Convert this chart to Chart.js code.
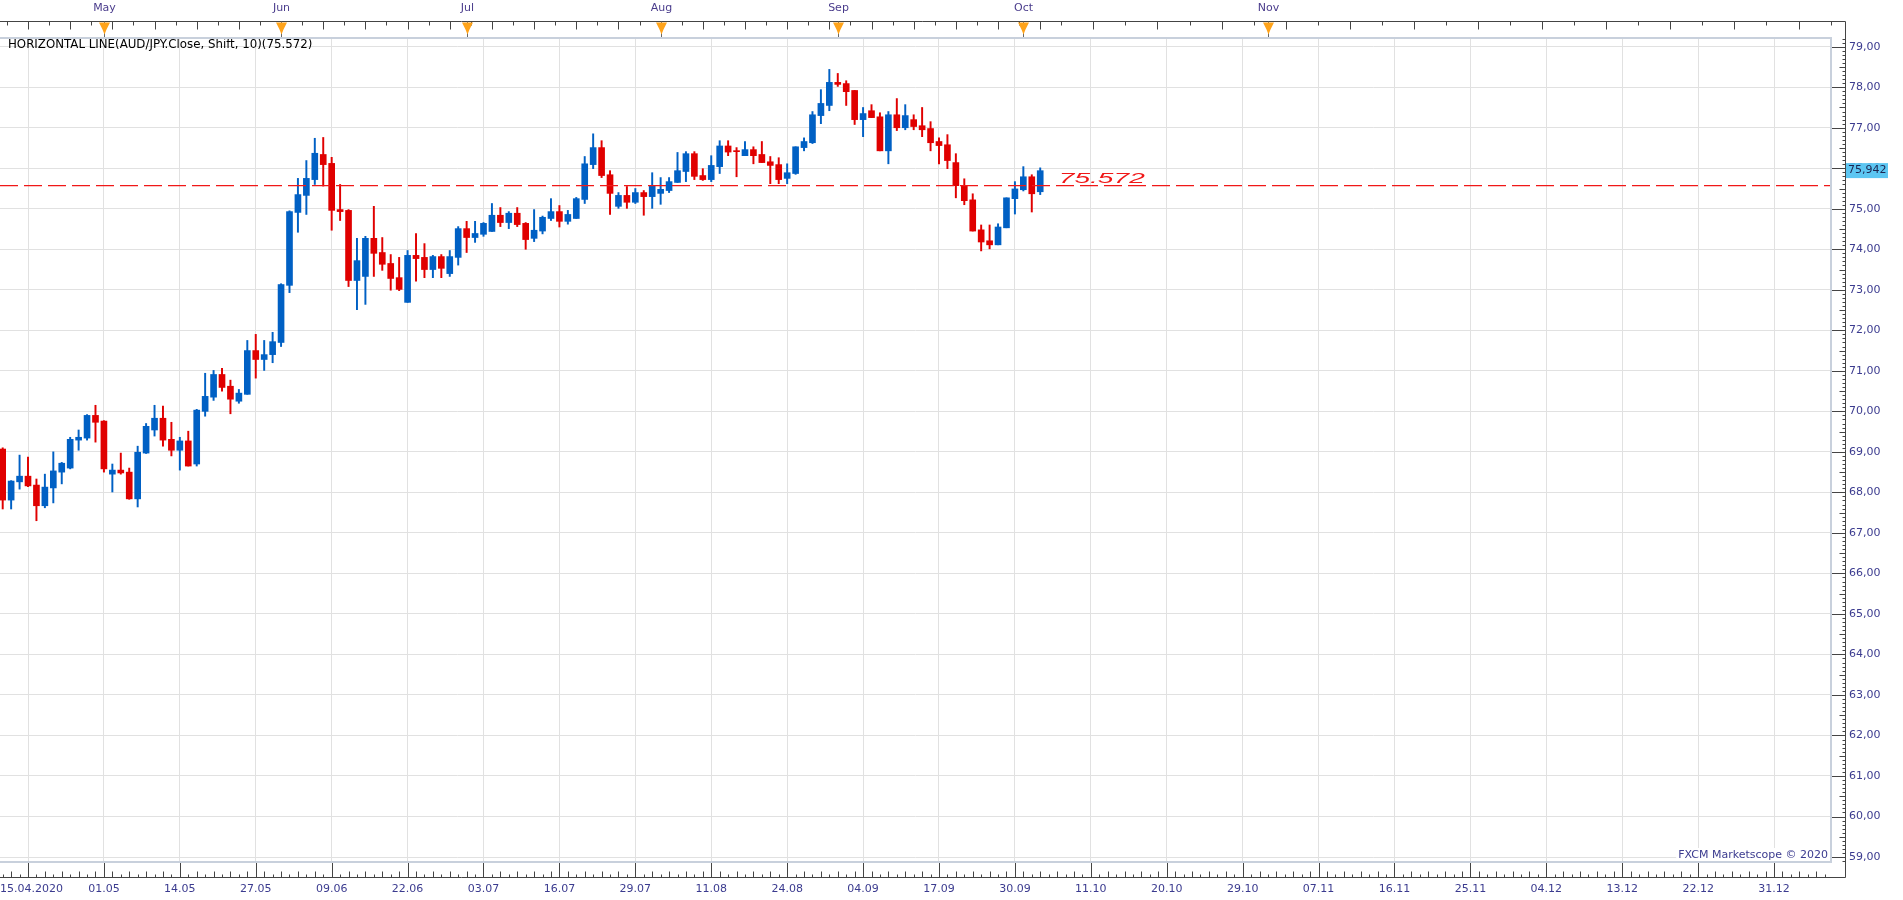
<!DOCTYPE html>
<html>
<head>
<meta charset="utf-8">
<title>AUD/JPY</title>
<script src="https://cdn.jsdelivr.net/npm/chart.js@4.4.1/dist/chart.umd.min.js"></script>
<style>
  html, body { margin: 0; padding: 0; background: #fff; }
  canvas { display: block; }
</style>
</head>
<body>
<canvas id="audjpy" width="1903" height="900"></canvas>
<script>
// daily AUD/JPY candles, one per trading day starting 15.04.2020
const opens = [
  69.07, 67.81, 68.26, 68.40, 68.18, 67.67, 68.11, 68.50, 68.60, 69.29,
  69.34, 69.90, 69.76, 68.45, 68.55, 68.50, 67.84, 68.97, 69.54, 69.83,
  69.31, 69.04, 69.27, 68.70, 70.00, 70.35, 70.91, 70.62, 70.25, 70.42,
  71.50, 71.28, 71.40, 71.70, 73.11, 74.91, 75.33, 75.72, 76.34, 76.12,
  74.98, 74.96, 73.23, 73.33, 74.27, 73.92, 73.65, 73.30, 72.69, 73.85,
  73.80, 73.50, 73.82, 73.40, 73.80, 74.51, 74.29, 74.37, 74.44, 74.84,
  74.66, 74.89, 74.64, 74.27, 74.45, 74.76, 74.93, 74.69, 74.76, 75.23,
  76.09, 76.51, 75.84, 75.06, 75.33, 75.16, 75.40, 75.30, 75.38, 75.45,
  75.65, 75.92, 76.36, 75.82, 75.72, 76.04, 76.55, 76.43, 76.31, 76.46,
  76.34, 76.16, 76.09, 75.75, 75.87, 76.51, 76.63, 77.30, 77.55, 78.12,
  78.09, 77.92, 77.20, 77.42, 77.27, 76.43, 77.32, 77.00, 77.20, 77.05,
  76.98, 76.66, 76.58, 76.14, 75.57, 75.22, 74.48, 74.21, 74.11, 74.53,
  75.25, 75.47, 75.79, 75.42
];
const highs = [
  69.10, 68.29, 68.92, 68.87, 68.33, 68.45, 69.00, 68.74, 69.36, 69.54,
  69.92, 70.15, 69.77, 68.70, 68.97, 68.60, 69.14, 69.70, 70.15, 70.13,
  69.73, 69.36, 69.51, 70.05, 70.94, 71.01, 71.06, 70.77, 70.54, 71.75,
  71.90, 71.75, 71.95, 73.15, 74.95, 75.75, 76.19, 76.74, 76.76, 76.27,
  75.60, 74.98, 74.27, 74.32, 75.06, 74.29, 73.87, 73.80, 73.97, 74.39,
  74.14, 73.85, 73.87, 73.97, 74.56, 74.69, 74.69, 74.66, 75.13, 75.03,
  74.93, 75.03, 74.66, 74.98, 74.82, 75.25, 75.08, 74.96, 75.28, 76.29,
  76.85, 76.68, 75.94, 75.40, 75.55, 75.50, 75.45, 75.89, 75.77, 75.77,
  76.39, 76.41, 76.41, 75.99, 76.31, 76.68, 76.68, 76.51, 76.66, 76.53,
  76.66, 76.29, 76.26, 76.11, 76.53, 76.75, 77.40, 77.94, 78.44, 78.34,
  78.16, 77.92, 77.50, 77.57, 77.37, 77.40, 77.72, 77.57, 77.32, 77.50,
  77.15, 76.75, 76.83, 76.36, 75.74, 75.37, 74.60, 74.60, 74.63, 75.27,
  75.67, 76.04, 75.84, 76.01
];
const lows = [
  67.59, 67.59, 68.08, 68.14, 67.30, 67.62, 67.74, 68.21, 68.58, 69.04,
  69.29, 69.24, 68.50, 68.01, 68.45, 67.83, 67.64, 68.96, 69.39, 69.14,
  68.90, 68.55, 68.65, 68.65, 69.88, 70.27, 70.50, 69.94, 70.20, 70.42,
  70.82, 71.01, 71.20, 71.60, 72.93, 74.42, 74.86, 75.60, 75.56, 74.47,
  74.71, 73.08, 72.51, 72.64, 73.33, 73.48, 72.99, 72.98, 72.69, 73.21,
  73.30, 73.30, 73.30, 73.33, 73.61, 73.92, 74.17, 74.32, 74.44, 74.56,
  74.51, 74.56, 74.00, 74.19, 74.38, 74.71, 74.55, 74.62, 74.76, 75.13,
  75.99, 75.77, 74.86, 75.01, 75.01, 75.13, 74.84, 75.01, 75.11, 75.40,
  75.65, 75.67, 75.72, 75.70, 75.67, 75.87, 76.31, 75.79, 76.31, 76.11,
  76.14, 75.62, 75.62, 75.62, 75.85, 76.43, 76.61, 77.10, 77.42, 78.02,
  77.55, 77.08, 76.78, 77.25, 76.43, 76.11, 76.93, 76.95, 76.95, 76.78,
  76.43, 76.11, 75.99, 75.27, 75.10, 74.45, 73.96, 74.01, 74.11, 74.53,
  74.87, 75.44, 74.92, 75.35
];
const closes = [
  67.81, 68.28, 68.40, 68.16, 67.67, 68.13, 68.53, 68.72, 69.31, 69.36,
  69.90, 69.73, 68.58, 68.55, 68.48, 67.84, 68.99, 69.63, 69.83, 69.29,
  69.04, 69.27, 68.65, 70.03, 70.37, 70.91, 70.59, 70.30, 70.45, 71.50,
  71.28, 71.40, 71.72, 73.13, 74.93, 75.35, 75.75, 76.37, 76.09, 74.96,
  74.93, 73.23, 73.72, 74.27, 73.90, 73.63, 73.28, 73.01, 73.85, 73.77,
  73.50, 73.82, 73.53, 73.82, 74.51, 74.29, 74.39, 74.64, 74.84, 74.66,
  74.89, 74.61, 74.24, 74.47, 74.79, 74.93, 74.69, 74.86, 75.25, 76.11,
  76.51, 75.82, 75.38, 75.33, 75.16, 75.40, 75.30, 75.57, 75.48, 75.67,
  75.94, 76.36, 75.80, 75.72, 76.07, 76.55, 76.40, 76.41, 76.46, 76.31,
  76.14, 76.07, 75.72, 75.89, 76.53, 76.66, 77.32, 77.60, 78.12, 78.07,
  77.89, 77.20, 77.35, 77.25, 76.43, 77.32, 77.00, 77.30, 77.03, 76.95,
  76.63, 76.56, 76.19, 75.57, 75.20, 74.45, 74.18, 74.11, 74.55, 75.27,
  75.49, 75.79, 75.37, 75.94
];

const level = 75.572;      // horizontal line (close, shift 10)
const lastPrice = 75.942;

// bottom axis: slot positions and their date labels
const firstDate = '15.04.2020';
const dateSlots = [3, 12, 21, 30, 39, 48, 57, 66, 75, 84, 93, 102,
  111, 120, 129, 138, 147, 156, 165, 174, 183, 192, 201, 210];
const dateLabels = ['', '01.05', '14.05', '27.05', '09.06', '22.06', '03.07', '16.07',
  '29.07', '11.08', '24.08', '04.09', '17.09', '30.09', '11.10', '20.10', '29.10',
  '07.11', '16.11', '25.11', '04.12', '13.12', '22.12', '31.12'];

// top axis: month starts
const monthNames = ['May', 'Jun', 'Jul', 'Aug', 'Sep', 'Oct', 'Nov'];
const monthSlots = [12, 33, 55, 78, 99, 121, 150];

const xMin = -0.32, xMax = 216.75;
const yMin = 58.877, yMax = 79.215;

const up = '#0060c4', down = '#e00000';
const axisColor = '#3b3b8f';
const font = '11px "DejaVu Sans"';

const idx = opens.map((o, i) => i);
const colors = idx.map(i => closes[i] >= opens[i] ? up : down);

const frame = {
  id: 'frame',
  afterDraw(chart) {
    const { ctx, chartArea: a, scales: { x, y } } = chart;
    const axisX = 1845.5, topY = 21.5, botY = 877.5;
    ctx.save();

    // axis lines
    ctx.strokeStyle = '#444';
    ctx.lineWidth = 1;
    ctx.beginPath();
    ctx.moveTo(0, topY); ctx.lineTo(axisX, topY);
    ctx.lineTo(axisX, botY); ctx.lineTo(0, botY);
    ctx.stroke();

    ctx.beginPath();
    // price axis ticks, every 0.1
    for (let k = Math.ceil(y.min * 10); k <= Math.floor(y.max * 10); k++) {
      const py = Math.round(y.getPixelForValue(k / 10)) + 0.5;
      const len = k % 10 === 0 ? 14 : (k % 5 === 0 ? 6 : 3);
      ctx.moveTo(axisX - len, py); ctx.lineTo(axisX, py);
    }
    // date axis ticks, one per slot
    for (let s = 0; s <= Math.floor(x.max); s++) {
      const px = Math.round(x.getPixelForValue(s)) + 0.5;
      const len = dateSlots.includes(s) ? botY - a.bottom : (s % 2 ? 6 : 3);
      ctx.moveTo(px, botY - len); ctx.lineTo(px, botY);
    }
    // top axis ticks
    let n = 0;
    for (let t = 0.5; t < x.max; t += (t < opens.length ? 2.5 : 3.8)) {
      const px = Math.round(x.getPixelForValue(t)) + 0.5;
      const len = n++ % 2 ? 8 : 4;
      ctx.moveTo(px, topY); ctx.lineTo(px, topY + len);
    }
    ctx.stroke();

    // month markers
    ctx.font = font;
    ctx.textAlign = 'center';
    ctx.textBaseline = 'middle';
    monthSlots.forEach((s, i) => {
      const px = Math.round(x.getPixelForValue(s)) + 0.5;
      ctx.strokeStyle = '#666';
      ctx.beginPath();
      ctx.moveTo(px, topY); ctx.lineTo(px, a.top);
      ctx.stroke();
      ctx.fillStyle = '#ffa31a';
      ctx.beginPath();
      ctx.moveTo(px - 5.5, topY + 1);
      ctx.lineTo(px + 5.5, topY + 1);
      ctx.lineTo(px + 2, topY + 8);
      ctx.lineTo(px, topY + 13);
      ctx.lineTo(px - 2, topY + 8);
      ctx.closePath();
      ctx.fill();
      ctx.fillStyle = '#4a3c8c';
      ctx.fillText(monthNames[i], px, 8);
    });

    // date labels
    ctx.fillStyle = axisColor;
    dateSlots.forEach((s, i) => {
      if (dateLabels[i]) ctx.fillText(dateLabels[i], x.getPixelForValue(s), 889);
    });
    ctx.textAlign = 'left';
    ctx.fillText(firstDate, 0, 889);

    // indicator title
    ctx.fillStyle = '#000';
    ctx.font = '11.8px "DejaVu Sans"';
    ctx.fillText('HORIZONTAL LINE(AUD/JPY.Close, Shift, 10)(' + level.toFixed(3) + ')', 8, 45);
    ctx.font = font;

    // watermark
    const mark = 'FXCM Marketscope \u00a9 2020';
    const mw = ctx.measureText(mark).width;
    ctx.fillStyle = '#fff';
    ctx.fillRect(a.right - mw - 5, 848, mw + 4, 14);
    ctx.fillStyle = axisColor;
    ctx.textAlign = 'right';
    ctx.fillText(mark, a.right - 3, 855);

    // level value next to the last candle
    const lx = x.getPixelForValue(opens.length + 1.2);
    const ly = y.getPixelForValue(level) - 3;
    ctx.save();
    ctx.font = 'italic 15px "Liberation Sans"';
    const lw = ctx.measureText(level.toFixed(3)).width;
    ctx.translate(lx, ly);
    ctx.scale(86 / lw, 1);
    ctx.fillStyle = '#f01818';
    ctx.textAlign = 'left';
    ctx.textBaseline = 'alphabetic';
    ctx.fillText(level.toFixed(3), 0, 0);
    ctx.restore();

    // last price box on the price axis
    const py = y.getPixelForValue(lastPrice);
    ctx.fillStyle = '#5cc6f2';
    ctx.fillRect(axisX + 0.5, py - 7.5, 42, 15);
    ctx.fillStyle = '#1c2450';
    ctx.textAlign = 'left';
    ctx.fillText(lastPrice.toFixed(3).replace('.', ','), axisX + 2.5, py);

    // plot border
    ctx.strokeStyle = '#c8d0dc';
    ctx.lineWidth = 2;
    ctx.beginPath();
    ctx.moveTo(a.left, a.top); ctx.lineTo(a.right, a.top);
    ctx.lineTo(a.right, a.bottom); ctx.lineTo(a.left, a.bottom);
    ctx.stroke();
    ctx.restore();
  }
};

new Chart(document.getElementById('audjpy'), {
  type: 'bar',
  data: {
    datasets: [
      {
        type: 'line',
        label: 'level',
        data: [{ x: xMin, y: level }, { x: xMax, y: level }],
        borderColor: '#f01818',
        borderWidth: 1.3,
        borderDash: [18, 6],
        pointRadius: 0,
        order: 0
      },
      {
        label: 'body',
        data: idx.map(i => ({ x: i, y: [opens[i], closes[i]] })),
        backgroundColor: colors,
        barThickness: 6,
        minBarLength: 1,
        grouped: false,
        order: 1
      },
      {
        label: 'wick',
        data: idx.map(i => ({ x: i, y: [lows[i], highs[i]] })),
        backgroundColor: colors,
        barThickness: 1.3,
        grouped: false,
        order: 2
      }
    ]
  },
  options: {
    responsive: false,
    animation: false,
    devicePixelRatio: 1,
    layout: { padding: { top: 38, left: 0, right: 0, bottom: 0 } },
    plugins: { legend: { display: false }, tooltip: { enabled: false } },
    scales: {
      x: {
        type: 'linear',
        min: xMin,
        max: xMax,
        offset: false,
        afterBuildTicks: s => { s.ticks = dateSlots.map(v => ({ value: v })); },
        afterFit: s => { s.height = 38; },
        ticks: { display: false },
        border: { display: false },
        grid: { color: '#e1e1e1', drawTicks: false, offset: false }
      },
      y: {
        position: 'right',
        min: yMin,
        max: yMax,
        afterFit: s => { s.width = 72; },
        ticks: {
          stepSize: 1,
          includeBounds: false,
          padding: 18,
          color: axisColor,
          font: { family: 'DejaVu Sans', size: 11 },
          callback: v => v.toFixed(2).replace('.', ',')
        },
        border: { display: false },
        grid: { color: '#e1e1e1', drawTicks: false }
      }
    }
  },
  plugins: [frame]
});
</script>
</body>
</html>
